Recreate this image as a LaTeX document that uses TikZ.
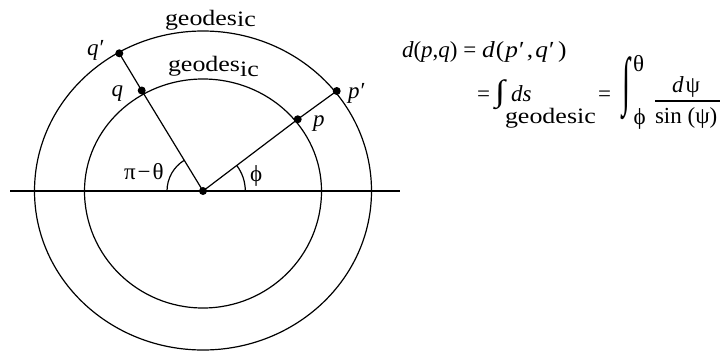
\documentclass[tikz,border=0pt]{standalone}
\usepackage{fontspec}
\usepackage{graphicx}
\setmainfont{Liberation Serif}
\newcommand\wideword[1]{{\fontsize{22}{26}\selectfont\scalebox{1.18}[1]{#1}}}
\begin{document}
\begin{tikzpicture}[x=1pt,y=-1pt,line width=1.2pt,
  every node/.style={inner sep=0pt,outer sep=0pt,font=\fontsize{23}{26}\selectfont},
  pt/.style={circle,fill=black,minimum size=8pt},
  lbl/.style={anchor=base west}]
\useasboundingbox (0,0) rectangle (727,351);
% axis
\coordinate (L) at (10,191);
\coordinate (R) at (400,191);
\draw (L) -- (R);
% circles
\draw (321.5,191) arc[start angle=0,end angle=-180,x radius=118.5,y radius=112];
\draw (321.5,191) arc[start angle=0,end angle=180,x radius=118.5,y radius=117];
\draw (371.5,191) arc[start angle=0,end angle=-180,x radius=168.5,y radius=160];
\draw (371.5,191) arc[start angle=0,end angle=180,x radius=168.5,y radius=159];
% points
\node[pt] (O) at (203,191) {};
\node[pt] (q) at (141.7,90.5) {};
\node[pt] (qq) at (119.3,53.3) {};
\node[pt] (p) at (297.7,119.3) {};
\node[pt] (pp) at (336.7,91) {};
\draw (O.center) -- (q.center) -- (qq.center);
\draw (O.center) -- (p.center) -- (pp.center);
% angle arcs
\draw ([xshift=-36pt]O.center) arc[start angle=180,end angle=239,radius=36];
\draw ([xshift=42.3pt]O.center) arc[start angle=0,end angle=-37,radius=42.3];
% labels
\node[lbl] (lqq) at (87,55.7) {\textit{q}\kern1pt′};
\node[lbl] (lq) at (111.7,96.7) {\textit{q}};
\node[lbl] (lpp) at (348,98.3) {\textit{p}\kern1pt′};
\node[lbl] (lp) at (313,126.7) {\textit{p}};
\node[lbl] (lpt) at (124,179.3) {π\kern2pt−\kern2ptθ};
\node[lbl] (lphi) at (250,181) {ϕ};
\node[lbl] (g1) at (165,25.7) {\wideword{geodes\raisebox{-1pt}{ic}}};
\node[lbl] (g2) at (168,71.5) {\wideword{geodes\raisebox{-5pt}{ic}}};
% formula
\node[lbl] (f1) at (402,57.3) {\textit{d}(\textit{p},\textit{q}) = \scalebox{1.1}[1]{\textit{d}\kern1pt(\kern1pt\textit{p}\kern1pt′\kern2pt,\kern2pt\textit{q}\kern1pt′\kern3pt)}};
\node[lbl] (eq1) at (477,101.7) {=};
\node (int1) at (500,95) {\resizebox*{10pt}{30pt}{∫}};
\node[lbl] (ds) at (511,101.7) {\textit{ds}};
\node[lbl] (g3) at (505,123.3) {\wideword{geodesic}};
\node[lbl] (eq2) at (598,101.7) {=};
\node (int2) at (626,88.5) {\resizebox*{8pt}{63pt}{∫}};
\node[lbl] (th) at (633,71.7) {θ};
\node[lbl] (ph) at (633.5,124) {ϕ};
\node[lbl] (num) at (672,92.3) {\textit{d}\kern2ptψ};
\node[lbl] (den) at (655,123.3) {sin (ψ)};
\coordinate (bl) at (655,101);
\coordinate (br) at (720,101);
\draw (bl) -- (br);
\end{tikzpicture}
\end{document}
